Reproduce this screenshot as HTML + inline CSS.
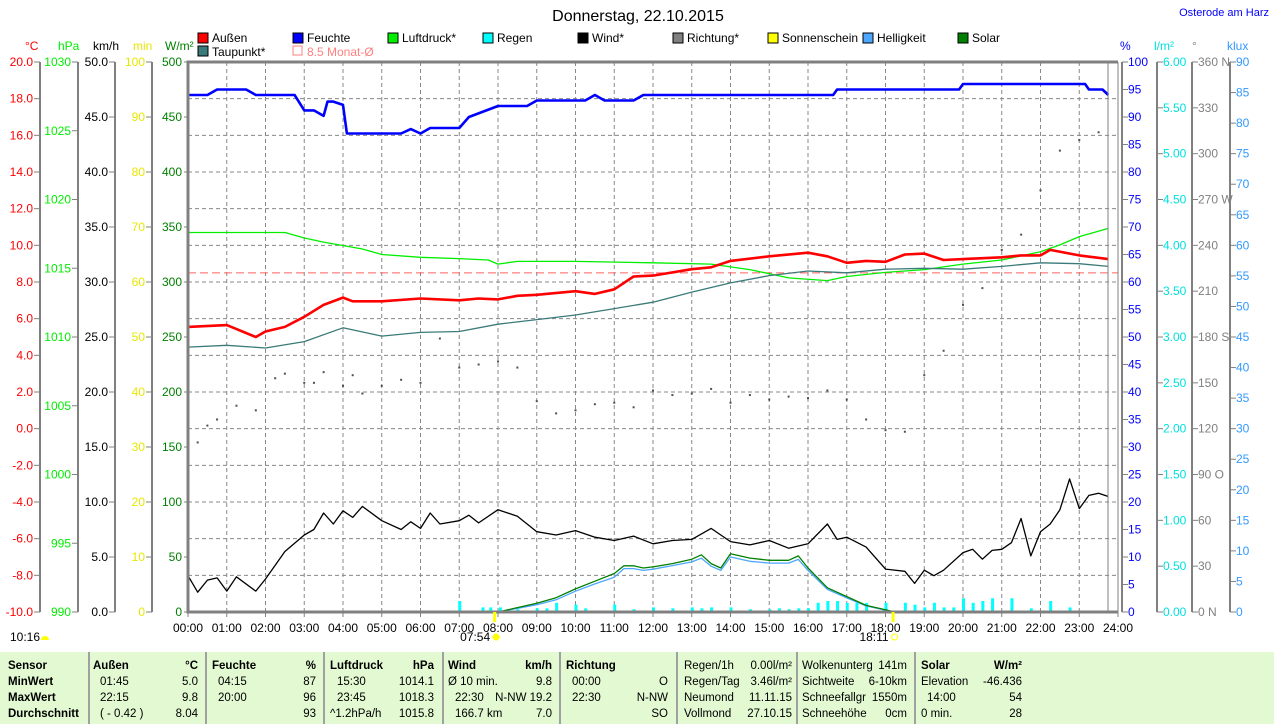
<!DOCTYPE html>
<html><head><meta charset="utf-8">
<style>
html,body{margin:0;padding:0;background:#fff;}
body{width:1274px;height:724px;position:relative;overflow:hidden;font-family:"Liberation Sans",sans-serif;font-size:11px;}
.t{position:absolute;white-space:nowrap;font-size:11.5px;line-height:14px;}
.b{font-weight:bold;}
.sep{position:absolute;top:652px;height:72px;width:2px;background:#a0a0a0;}
</style></head>
<body>
<svg id="chart" width="1274" height="652" style="position:absolute;left:0;top:0" font-family="Liberation Sans, sans-serif" font-size="11"></svg>
<div style="position:absolute;left:0;top:652px;width:1274px;height:72px;background:#e2f9d2;">
</div>
<div class="sep" style="left:88px"></div>
<div class="sep" style="left:205px"></div>
<div class="sep" style="left:323px"></div>
<div class="sep" style="left:442px"></div>
<div class="sep" style="left:559px"></div>
<div class="sep" style="left:676px"></div>
<div class="sep" style="left:796px"></div>
<div class="sep" style="left:914px"></div>
<div id="tbl"></div>
<script>
// ---------- data ----------
const tempTimes=[0,1,1.75,2,2.5,3,3.5,4,4.25,5,6,7,7.5,8,8.5,9,10,10.5,11,11.5,12,13,13.5,14,15,16,16.5,17,17.5,18,18.5,19,19.5,20,21,21.5,22,22.25,23,23.75];
const tempVals=[5.55,5.65,5.0,5.3,5.55,6.1,6.75,7.15,6.95,6.95,7.1,7.0,7.1,7.05,7.25,7.3,7.5,7.35,7.6,8.3,8.35,8.7,8.8,9.15,9.4,9.6,9.4,9.05,9.15,9.1,9.5,9.55,9.2,9.25,9.35,9.45,9.45,9.75,9.45,9.25];
const dewTimes=[0,1,2,3,4,5,6,7,8,9,10,11,12,13,14,15,16,17,18,19,20,21,22,23,23.75];
const dewVals=[4.45,4.55,4.4,4.75,5.5,5.05,5.25,5.3,5.7,5.95,6.2,6.55,6.9,7.45,7.95,8.35,8.6,8.5,8.7,8.75,8.7,8.85,9.05,9.0,8.85];
const humTimes=[0,0.5,0.75,1.5,1.75,2.75,3,3.25,3.5,3.6,3.75,4,4.1,4.25,5.5,5.75,6,6.25,7,7.25,8,8.75,9,10.25,10.5,10.75,11.5,11.75,16.65,16.75,19.9,20,23.15,23.25,23.6,23.75];
const humVals=[94,94,95,95,94,94,91.2,91.2,90.2,92.8,92.8,92.2,87,87,87,87.8,87,88,88,90,92,92,93,93,94,93,93,94,94,95,95,96,96,95,95,94];
const presTimes=[0,2.5,3,3.5,4.5,5,6,7,7.75,8,8.5,10,12,13.5,14.5,15.5,16.5,17,18,19,20,21,22,22.5,23,23.75];
const presVals=[1017.6,1017.6,1017.2,1016.9,1016.4,1016.0,1015.8,1015.7,1015.6,1015.3,1015.5,1015.5,1015.4,1015.3,1014.9,1014.3,1014.1,1014.4,1014.7,1014.9,1015.3,1015.6,1016.2,1016.7,1017.3,1017.9];
const windTimes=[0,0.25,0.5,0.75,1,1.25,1.75,2,2.5,3,3.25,3.5,3.75,4,4.25,4.5,5,5.5,5.75,6,6.25,6.5,7,7.25,7.5,8,8.5,9,9.5,10,10.5,11,11.5,12,12.5,13,13.5,14,14.5,15,15.5,16,16.5,16.75,17,17.5,18,18.5,18.75,19,19.25,19.5,20,20.25,20.5,20.75,21,21.25,21.5,21.75,22,22.25,22.5,22.75,23,23.25,23.5,23.75];
const windVals=[3.3,1.8,2.9,3.1,1.9,3.2,1.9,3.0,5.5,7.0,7.5,9.0,8.0,9.2,8.6,9.6,8.3,7.5,8.2,7.6,9.0,8.0,8.3,8.8,8.1,9.3,8.7,7.3,7.0,7.4,6.8,6.5,6.9,6.2,6.5,6.6,7.6,6.4,6.1,6.5,5.8,6.2,8.0,6.6,6.8,5.9,3.9,3.7,2.6,3.8,3.3,3.8,5.4,5.7,4.8,5.6,5.7,6.3,8.5,5.1,7.3,8.0,9.3,12.1,9.4,10.6,10.8,10.5];
const dirTimes=[0.25,0.5,0.75,1.25,1.75,2.25,2.5,3,3.25,3.5,4,4.25,4.5,5,5.5,6,6.5,7,7.5,8,8.5,9,9.5,10,10.5,11,11.5,12,12.5,13,13.5,14,14.5,15,15.5,16,16.5,17,17.5,18,18.5,19,19.5,20,20.5,21,21.5,22,22.5,23,23.5];
const dirVals=[111,122,126,135,132,153,156,150,150,157,148,155,143,148,152,150,179,160,162,164,160,138,130,132,136,137,134,145,142,143,146,137,142,139,141,140,145,139,126,119,118,155,171,201,212,237,247,276,302,309,314];
const rainTimes=[7,7.6,7.8,8.05,8.5,9,9.25,9.5,10,10.25,11,11.5,12,12.5,13,13.25,13.5,14,14.5,15,15.25,15.5,15.75,16,16.25,16.5,16.75,17,17.25,17.5,18,18.5,18.75,19,19.25,19.5,19.75,20,20.25,20.5,20.75,21.25,21.75,22.25,22.75];
const rainVals=[0.12,0.05,0.05,0.05,0.03,0.04,0.04,0.1,0.08,0.04,0.08,0.03,0.05,0.04,0.05,0.04,0.05,0.05,0.03,0.03,0.04,0.03,0.04,0.04,0.1,0.12,0.12,0.1,0.1,0.1,0.1,0.1,0.08,0.05,0.1,0.05,0.05,0.15,0.1,0.12,0.15,0.15,0.04,0.12,0.05];
const solarTimes=[8,8.5,9,9.5,10,10.5,11,11.25,11.5,11.75,12,12.5,13,13.25,13.5,13.75,14,14.5,15,15.5,15.75,16,16.5,17,17.5,18,18.25];
const solarVals=[0,4,8,13,21,28,35,42,42,40,41,44,48,52,44,40,53,49,47,47,51,40,22,14,6,2,0];
const luxVals=[0,0.6,1.2,2.0,3.4,4.6,5.7,7.1,7.1,6.8,7.0,7.6,8.2,8.8,7.5,6.8,9.0,8.3,8.0,8.0,8.6,6.8,3.7,2.3,1.0,0.3,0];
const hourLabels=["00:00","01:00","02:00","03:00","04:00","05:00","06:00","07:00","08:00","09:00","10:00","11:00","12:00","13:00","14:00","15:00","16:00","17:00","18:00","19:00","20:00","21:00","22:00","23:00","24:00"];

// ---------- scales ----------
const X0=188,X1=1118,Y0=62,Y1=612,H=Y1-Y0;
const xS=t=>X0+t*(X1-X0)/24;
const lin=(lo,hi)=>v=>Y1-(v-lo)/(hi-lo)*H;
const yT=lin(-10,20),yP=lin(990,1030),yW=lin(0,50),yM=lin(0,100),yS=lin(0,500),yH=lin(0,100),yR=lin(0,6),yD=lin(0,360),yL=lin(0,90);

const svg=document.getElementById('chart');
const NS='http://www.w3.org/2000/svg';
function mk(tag,at){const e=document.createElementNS(NS,tag);for(const k in at)e.setAttribute(k,at[k]);svg.appendChild(e);return e;}
function txt(x,y,s,fill,anchor,size){const e=mk('text',{x:x,y:y,fill:fill,'text-anchor':anchor||'start','font-size':size||11});e.textContent=s;return e;}
function pathOf(ts,vs,ys){return ts.map((t,i)=>(i?'L':'M')+xS(t).toFixed(1)+','+ys(vs[i]).toFixed(1)).join('');}

for(let i=1;i<24;i++){const g=mk('line',{x1:xS(i),x2:xS(i),y1:Y0,y2:Y1,stroke:'#888','stroke-dasharray':'4,3','stroke-width':1});

}
for(let v=-8;v<20;v+=2){const g=mk('line',{x1:X0,x2:X1,y1:yT(v),y2:yT(v),stroke:'#888','stroke-dasharray':'4,3','stroke-width':1});

}
let avg=mk('line',{x1:X0,x2:X1,y1:yT(8.5),y2:yT(8.5),stroke:'#ff6060','stroke-dasharray':'8,4','stroke-width':1});



function axis(xLine,lo,hi,step,ys,color,fmt,name,side){
 const a=mk('line',{x1:xLine,x2:xLine,y1:Y0,y2:Y1,stroke:'#808080','stroke-width':2});
 
 
 for(let v=lo;v<=hi+1e-9;v+=step){const y=ys(v);
  mk('line',{x1:side==='l'?xLine-6:xLine,x2:side==='l'?xLine:xLine+6,y1:y,y2:y,stroke:'#808080'});
  const l=txt(side==='l'?xLine-7:xLine+6,y+4,fmt(v),color,side==='l'?'end':'start',12);
  
  }
}
axis(40,-10,20,2,yT,'#ff0000',v=>v.toFixed(1),'temperature','l');
axis(78,990,1030,5,yP,'#00ee00',v=>v.toFixed(0),'pressure','l');
axis(115,0,50,5,yW,'#000',v=>v.toFixed(1),'wind-speed','l');
axis(152,0,100,10,yM,'#e8e800',v=>v.toFixed(0),'sunshine-minutes','l');
axis(1122,0,100,5,yH,'#0000ff',v=>v.toFixed(0),'humidity','r');
axis(1157,0,6,0.5,yR,'#00e0e0',v=>v.toFixed(2),'rain','r');
axis(1192,0,360,30,yD,'#808080',v=>v+({0:' N',90:' O',180:' S',270:' W',360:' N'}[v]||''),'direction','r');
axis(1230,0,90,5,yL,'#3399ff',v=>v.toFixed(0),'brightness','r');
for(let v=0;v<=500;v+=50){const l=txt(182,yS(v)+4,String(v),'#008000','end',12);


mk('line',{x1:184,x2:188,y1:yS(v),y2:yS(v),stroke:'#808080'});}
hourLabels.forEach((s,i)=>{mk('line',{x1:xS(i),x2:xS(i),y1:Y1,y2:Y1+5,stroke:'#808080'});
const l=txt(xS(i),632,s,'#000','middle',12);

});
[[25,'°C','#ff0000'],[58,'hPa','#00ee00'],[93,'km/h','#000'],[133,'min','#e8e800'],[165,'W/m²','#008000'],[1120,'%','#0000ff'],[1154,'l/m²','#00e0e0'],[1192,'°','#808080'],[1227,'klux','#3399ff']].forEach(a=>{
const l=txt(a[0],50,a[1],a[2],'start',12);

});

rainTimes.forEach((t,i)=>{const y=yR(rainVals[i]);const b=mk('rect',{x:xS(t)-1,y:y,width:3,height:Y1-y,fill:'#00ffff'});

});
function line(ts,vs,ys,col,w,name){const p=mk('path',{d:pathOf(ts,vs,ys),fill:'none',stroke:col,'stroke-width':w,'stroke-linejoin':'round'});

}
line(solarTimes,luxVals,yL,'#4da6ff',1.3,'brightness-line');
line(solarTimes,solarVals,yS,'#008000',1.3,'solar-line');
line(presTimes,presVals,yP,'#00ee00',1.3,'pressure-line');
line(dewTimes,dewVals,yT,'#3a7a7a',1.3,'dewpoint-line');
line(windTimes,windVals,yW,'#000',1.3,'wind-line');
line(tempTimes,tempVals,yT,'#ff0000',2.6,'temperature-line');
line(humTimes,humVals,yH,'#0000ff',2.6,'humidity-line');
dirTimes.forEach((t,i)=>{const d=mk('rect',{x:xS(t)-1,y:yD(dirVals[i])-1,width:2,height:2,fill:'#505050'});

});
let fr=mk('path',{d:`M${X1},${Y0}L${X0},${Y0}L${X0},${Y1}L${X1},${Y1}`,fill:'none',stroke:'#808080','stroke-width':3});


mk('line',{x1:1108,x2:1108,y1:Y0,y2:Y1,stroke:'#808080','stroke-width':1});
mk('line',{x1:X1,x2:X1,y1:Y0,y2:Y1,stroke:'#808080','stroke-width':1});
[[7.9,'07:54'],[18.183,'18:11']].forEach(s=>{mk('rect',{x:xS(s[0])-1,y:Y1,width:3,height:10,fill:'#ffff00'});
const l=txt(xS(s[0])-4,641,s[1],'#000','end',12);


mk('circle',{cx:xS(s[0])+2,cy:637,r:3,fill:s[1]==='07:54'?'#ffff00':'none',stroke:'#ffff00'});});
let dl=txt(10,641,'10:16','#000','start',12);


mk('path',{d:'M41,640 a4,4 0 0 1 8,0 z',fill:'#ffff00'});
let ti=txt(638,21,'Donnerstag, 22.10.2015','#000','middle',16);


let loc=txt(1269,16,'Osterode am Harz','#0000ff','end',11);


const legendNames=['Außen','Feuchte','Luftdruck*','Regen','Wind*','Richtung*','Sonnenschein','Helligkeit','Solar'];
const legendCols=['#ff0000','#0000ff','#00ee00','#00ffff','#000000','#808080','#ffff00','#4da6ff','#008000'];
legendNames.forEach((n,i)=>{const x=198+i*95;
const s=mk('rect',{x:x,y:33,width:10,height:10,fill:legendCols[i],stroke:'#000'});


const l=txt(x+14,42,n,'#000','start',12);

});
let s2=mk('rect',{x:198,y:46,width:10,height:10,fill:'#3a7a7a',stroke:'#000'});


let l2=txt(212,56,'Taupunkt*','#000','start',12);


let s3=mk('rect',{x:293,y:46,width:9,height:9,fill:'none',stroke:'#ff8080'});


let l3=txt(307,56,'8.5 Monat-Ø','#ff8080','start',12);



const rowsY=[659,675,691,707];
const cells=[
[8,0,'Sensor',1],[8,1,'MinWert',1],[8,2,'MaxWert',1],[8,3,'Durchschnitt',1],
[93,0,'Außen',1],[-198,0,'°C',1],[100,1,'01:45'],[-198,1,'5.0'],[100,2,'22:15'],[-198,2,'9.8'],[100,3,'( - 0.42 )'],[-198,3,'8.04'],
[212,0,'Feuchte',1],[-316,0,'%',1],[218,1,'04:15'],[-316,1,'87'],[218,2,'20:00'],[-316,2,'96'],[-316,3,'93'],
[330,0,'Luftdruck',1],[-434,0,'hPa',1],[337,1,'15:30'],[-434,1,'1014.1'],[337,2,'23:45'],[-434,2,'1018.3'],[330,3,'^1.2hPa/h'],[-434,3,'1015.8'],
[448,0,'Wind',1],[-552,0,'km/h',1],[448,1,'Ø 10 min.'],[-552,1,'9.8'],[455,2,'22:30'],[-552,2,'N-NW 19.2'],[455,3,'166.7 km'],[-552,3,'7.0'],
[566,0,'Richtung',1],[572,1,'00:00'],[-668,1,'O'],[572,2,'22:30'],[-668,2,'N-NW'],[-668,3,'SO'],
[684,0,'Regen/1h'],[-792,0,'0.00l/m²'],[684,1,'Regen/Tag'],[-792,1,'3.46l/m²'],[684,2,'Neumond'],[-792,2,'11.11.15'],[684,3,'Vollmond'],[-792,3,'27.10.15'],
[802,0,'Wolkenunterg'],[-907,0,'141m'],[802,1,'Sichtweite'],[-907,1,'6-10km'],[802,2,'Schneefallgr'],[-907,2,'1550m'],[802,3,'Schneehöhe'],[-907,3,'0cm'],
[921,0,'Solar',1],[-1022,0,'W/m²',1],[921,1,'Elevation'],[-1022,1,'-46.436'],[927,2,'14:00'],[-1022,2,'54'],[921,3,'0 min.'],[-1022,3,'28']
];
const tbl=document.getElementById('tbl');
cells.forEach(c=>{const d=document.createElement('div');
d.className='t'+(c[3]?' b':'');
d.style.top=rowsY[c[1]]+'px';
if(c[0]<0){d.style.right=(1274+c[0])+'px';}else{d.style.left=c[0]+'px';}
d.textContent=c[2];


tbl.appendChild(d);});
</script>
</body></html>
